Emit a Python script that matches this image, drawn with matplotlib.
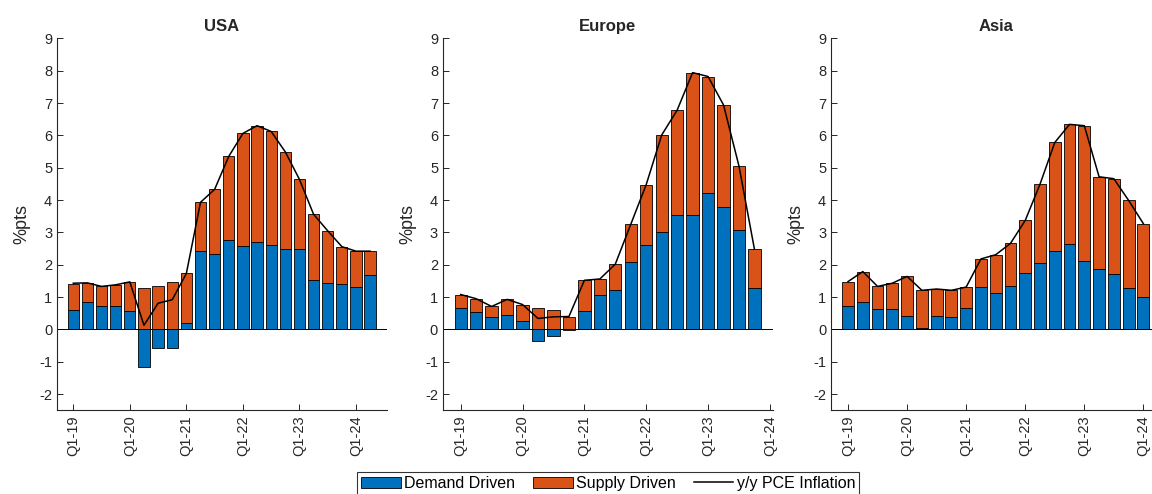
import numpy as np
import matplotlib
matplotlib.use("Agg")
import matplotlib.pyplot as plt

plt.rcParams['font.family'] = ['Liberation Sans', 'DejaVu Sans']
plt.rcParams['axes.unicode_minus'] = False

regions = ["USA", "Europe", "Asia"]
tick_labels = ["Q1-19", "Q1-20", "Q1-21", "Q1-22", "Q1-23", "Q1-24"]

usa_demand = [0.59, 0.84, 0.71, 0.71, 0.58, -1.15, -0.56, -0.56, 0.19, 2.41, 2.34,
              2.78, 2.59, 2.69, 2.62, 2.49, 2.48, 1.53, 1.44, 1.39, 1.30, 1.68]
usa_supply = [0.83, 0.60, 0.62, 0.67, 0.89, 1.27, 1.35, 1.47, 1.54, 1.52, 1.99,
              2.57, 3.47, 3.61, 3.50, 3.00, 2.16, 2.03, 1.61, 1.17, 1.11, 0.73]
usa_infl = [1.43, 1.44, 1.33, 1.38, 1.47, 0.13, 0.81, 0.92, 1.73, 3.93, 4.33,
            5.35, 6.06, 6.30, 6.12, 5.49, 4.64, 3.56, 3.05, 2.56, 2.42, 2.42]

eu_demand = [0.65, 0.53, 0.37, 0.44, 0.26, -0.36, -0.19, -0.02, 0.56, 1.05,
             1.22, 2.10, 2.60, 3.02, 3.53, 3.54, 4.21, 3.78, 3.06, 1.27]
eu_supply = [0.43, 0.42, 0.34, 0.49, 0.51, 0.67, 0.59, 0.40, 0.96, 0.51,
             0.80, 1.15, 1.88, 2.99, 3.25, 4.40, 3.61, 3.16, 1.99, 1.21]
eu_infl = [1.08, 0.95, 0.71, 0.93, 0.77, 0.34, 0.39, 0.40, 1.52, 1.56,
           2.02, 3.25, 4.48, 6.01, 6.78, 7.94, 7.82, 6.94, 5.05, 2.48]

asia_demand = [0.74, 0.86, 0.63, 0.62, 0.42, 0.06, 0.41, 0.38, 0.65, 1.30, 1.12,
               1.33, 1.75, 2.04, 2.44, 2.63, 2.13, 1.88, 1.70, 1.29, 0.99]
asia_supply = [0.74, 0.93, 0.70, 0.81, 1.22, 1.15, 0.84, 0.83, 0.66, 0.88, 1.19,
               1.33, 1.62, 2.45, 3.34, 3.71, 4.17, 2.84, 2.96, 2.70, 2.28]
asia_infl = [1.48, 1.79, 1.33, 1.43, 1.64, 1.21, 1.25, 1.21, 1.31, 2.18, 2.31,
             2.66, 3.37, 4.49, 5.78, 6.34, 6.30, 4.72, 4.66, 3.99, 3.27]

data = [(usa_demand, usa_supply, usa_infl),
        (eu_demand, eu_supply, eu_infl),
        (asia_demand, asia_supply, asia_infl)]

blue = "#0072BD"
orange = "#D95319"
txt = "#262626"

fig = plt.figure(figsize=(11.52, 4.94), dpi=100)
lefts = [0.0495, 0.3845, 0.7214]

for left, name, (dem, sup, infl) in zip(lefts, regions, data):
    ax = fig.add_axes([left, 0.1694, 0.2865, 0.753])
    dem = np.array(dem)
    sup = np.array(sup)
    x = np.arange(len(dem))
    b1 = ax.bar(x, dem, width=0.8, color=blue, edgecolor="black", linewidth=0.6)
    b2 = ax.bar(x, sup, width=0.8, bottom=np.clip(dem, 0, None), color=orange,
                edgecolor="black", linewidth=0.6)
    ln, = ax.plot(x, infl, color="black", lw=1.1)
    ax.axhline(0, color="black", lw=0.7)

    ax.set_xlim(-1.15, len(dem) + 0.2)
    ax.set_ylim(-2.5, 9)
    ax.set_yticks(range(-2, 10))
    ax.set_xticks(range(0, 4 * len(tick_labels), 4))
    ax.set_xticklabels(tick_labels, rotation=90)
    ax.set_ylabel("%pts", fontsize=13, color=txt, labelpad=6)
    ax.set_title(name, fontsize=12, fontweight="bold", color=txt, pad=5)

    ax.spines["top"].set_visible(False)
    ax.spines["right"].set_visible(False)
    for s in ["left", "bottom"]:
        ax.spines[s].set_color(txt)
        ax.spines[s].set_linewidth(0.8)
    ax.tick_params(direction="in", length=4, width=0.7, labelsize=10.5,
                   colors=txt)

leg = fig.legend([b1, b2, ln], ["Demand Driven", "Supply Driven", "y/y PCE Inflation"],
                 loc="upper center", ncol=3,
                 bbox_to_anchor=(0.528, 1 - 472 / 494),
                 fontsize=11.5, frameon=True, fancybox=False, handlelength=2.5,
                 handletextpad=0.2, columnspacing=1.1, borderpad=0.25,
                 borderaxespad=0)
leg.get_frame().set_edgecolor("black")
leg.get_frame().set_linewidth(0.8)

fig.savefig("out.png", dpi=100)
